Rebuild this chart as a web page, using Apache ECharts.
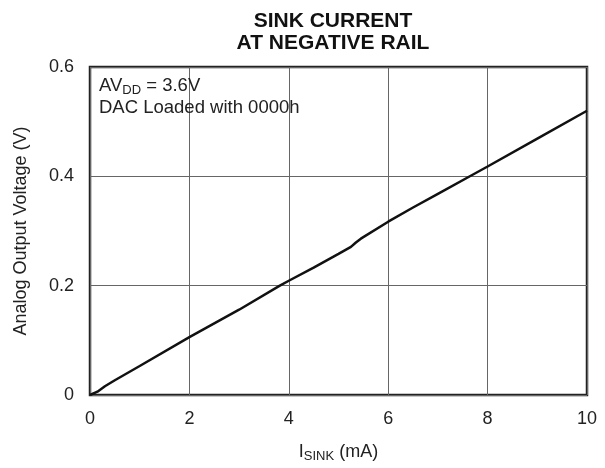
<!DOCTYPE html>
<html>
<head>
<meta charset="utf-8">
<script src="https://cdn.jsdelivr.net/npm/echarts@6/dist/echarts.min.js"></script>
<style>html,body{margin:0;padding:0;background:#fff}#c{width:605px;height:468px}</style>
</head>
<body>
<div id="c"></div>
<script>
var isink = [0, 0.15, 0.3, 0.5, 1, 2, 3, 3.82, 4, 4.5, 5, 5.25, 5.35, 5.45, 6, 6.5, 7, 7.68, 8, 9, 10];
var vout  = [0, 0.006, 0.016, 0.027, 0.053, 0.106, 0.156, 0.200, 0.209, 0.233, 0.258, 0.271, 0.279, 0.286, 0.317, 0.343, 0.368, 0.402, 0.418, 0.469, 0.520];
var xTicks = [0, 2, 4, 6, 8, 10];
var yTicks = [0, 0.2, 0.4, 0.6];
var titleLines = ['SINK CURRENT', 'AT NEGATIVE RAIL'];

var FONT = '"Liberation Sans", Arial, Helvetica, sans-serif';
var chart = echarts.init(document.getElementById('c'), null, {renderer: 'canvas'});
var pts = isink.map(function (x, i) { return [x, vout[i]]; });

chart.setOption({
  animation: false,
  backgroundColor: '#fff',
  title: {
    text: titleLines.join('\n'),
    left: 328, top: 5, textAlign: 'center',
    textStyle: {fontFamily: FONT, fontSize: 21, fontWeight: 'bold', color: '#111', lineHeight: 22}
  },
  grid: {left: 90, top: 67, right: 18, bottom: 66, show: true, borderColor: '#222', borderWidth: 2.5, backgroundColor: 'transparent'},
  xAxis: {
    type: 'value', min: 0, max: 10, interval: 2,
    name: '{m|I}{s|SINK}{m| (mA)}', nameLocation: 'middle', nameGap: 46,
    nameTextStyle: {rich: {
      m: {fontFamily: FONT, fontSize: 18, color: '#222'},
      s: {fontFamily: FONT, fontSize: 13, color: '#222', verticalAlign: 'bottom', padding: [9, 0, 0, 0]}
    }},
    axisLine: {show: false}, axisTick: {show: false},
    axisLabel: {margin: 15, fontFamily: FONT, fontSize: 18, color: '#222',
      formatter: function (v) { return xTicks.indexOf(v) >= 0 ? String(v) : ''; }},
    splitLine: {show: true, lineStyle: {color: '#666', width: 1}}
  },
  yAxis: {
    type: 'value', min: 0, max: 0.6, interval: 0.2,
    name: 'Analog Output Voltage (V)', nameLocation: 'middle', nameGap: 60,
    nameTextStyle: {fontFamily: FONT, fontSize: 18, color: '#222'},
    axisLine: {show: false}, axisTick: {show: false},
    axisLabel: {margin: 16, fontFamily: FONT, fontSize: 18, color: '#222',
      formatter: function (v) { var r = Math.round(v * 10) / 10; return yTicks.indexOf(r) >= 0 ? (r === 0 ? '0' : r.toFixed(1)) : ''; }},
    splitLine: {show: true, lineStyle: {color: '#666', width: 1}}
  },
  graphic: [{
    type: 'text', left: 99, top: 75, z: 10,
    style: {
      text: '{m|AV}{s|DD}{m| = 3.6V}\n{m|DAC Loaded with 0000h}',
      rich: {
        m: {fontFamily: FONT, fontSize: 18.5, fill: '#222', lineHeight: 22},
        s: {fontFamily: FONT, fontSize: 13, fill: '#222', verticalAlign: 'bottom', padding: [9, 0, 0, 0], lineHeight: 22}
      }
    }
  }],
  series: [{
    type: 'line', data: pts, showSymbol: false, smooth: false,
    lineStyle: {color: '#111', width: 2.5}
  }]
});
</script>
</body>
</html>
